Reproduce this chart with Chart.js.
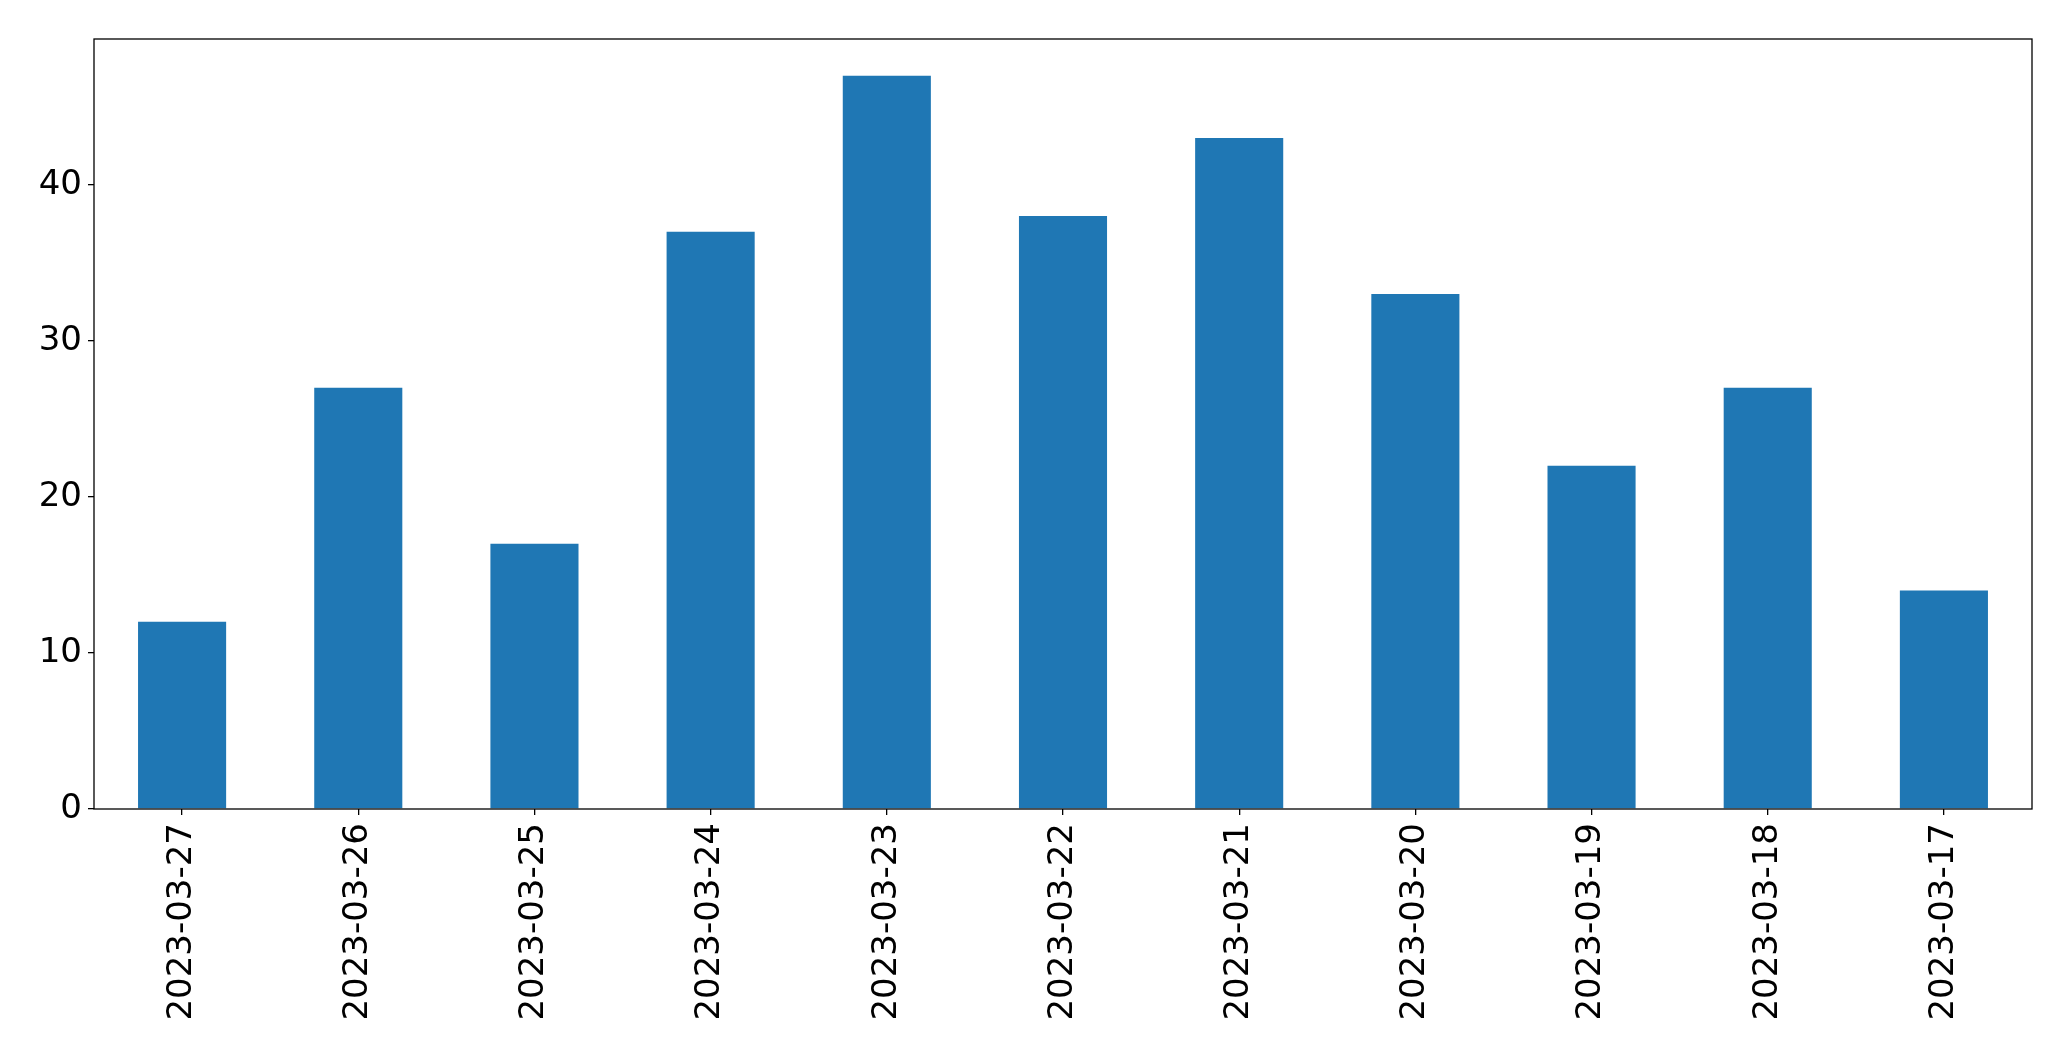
<!DOCTYPE html>
<html>
<head>
<meta charset="utf-8">
<script src="https://cdn.jsdelivr.net/npm/chart.js@4"></script>
<style>
  html, body { margin: 0; padding: 0; background: #fff; }
  #wrap { width: 2071px; height: 1061px; }
</style>
</head>
<body>
<div id="wrap"><canvas id="bars" width="2071" height="1061"></canvas></div>
<script>
// ----------------- DATA -----------------
const dates = ["2023-03-27", "2023-03-26", "2023-03-25", "2023-03-24", "2023-03-23", "2023-03-22",
               "2023-03-21", "2023-03-20", "2023-03-19", "2023-03-18", "2023-03-17"];
const counts = [12, 27, 17, 37, 47, 38, 43, 33, 22, 27, 14];
const yTicks = [0, 10, 20, 30, 40];

// ----------------- FRAME -----------------
// closes the box on top and right like matplotlib spines
const boxPlugin = {
  id: "box",
  afterDraw(chart) {
    const { ctx, chartArea: a } = chart;
    ctx.save();
    ctx.strokeStyle = "#000";
    ctx.lineWidth = 1.3;
    ctx.strokeRect(a.left, a.top, a.right - a.left, a.bottom - a.top);
    ctx.restore();
  }
};

// ----------------- CHART -----------------
const font = { family: "DejaVu Sans", size: 34 };

new Chart(document.getElementById("bars").getContext("2d"), {
  type: "bar",
  data: {
    labels: dates,
    datasets: [{
      data: counts,
      backgroundColor: "#1f77b4",
      barPercentage: 0.5,
      categoryPercentage: 1.0
    }]
  },
  options: {
    responsive: false,
    animation: false,
    layout: { padding: { top: 39, right: 39, left: 0, bottom: 0 } },
    plugins: { legend: { display: false }, tooltip: { enabled: false } },
    scales: {
      x: {
        offset: true,
        grid: { display: true, offset: false, drawOnChartArea: false, tickLength: 6, color: "#000", lineWidth: 1.3 },
        border: { display: false },
        ticks: { color: "#000", font, maxRotation: 90, minRotation: 90, padding: 8, autoSkip: false },
        afterFit(s) { s.height = 252; }
      },
      y: {
        min: 0,
        max: 49.35,
        grid: { display: true, drawOnChartArea: false, tickLength: 6, color: "#000", lineWidth: 1.3 },
        border: { display: false },
        ticks: { color: "#000", font, padding: 6 },
        afterBuildTicks(s) { s.ticks = yTicks.map(v => ({ value: v })); },
        afterFit(s) { s.width = 94; }
      }
    }
  },
  plugins: [boxPlugin]
});
</script>
</body>
</html>
